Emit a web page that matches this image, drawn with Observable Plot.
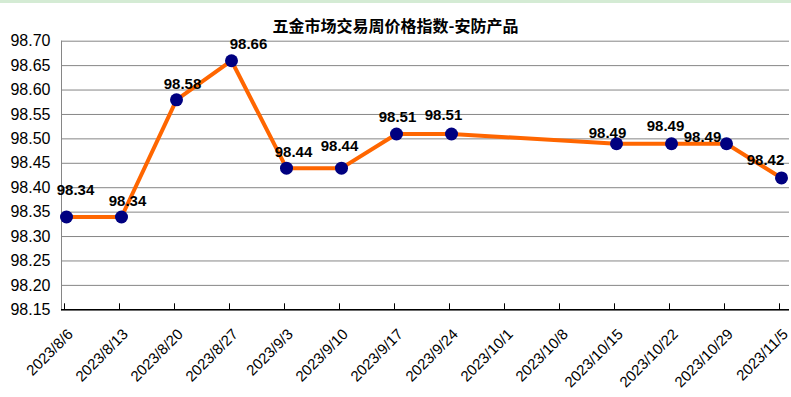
<!DOCTYPE html>
<html>
<head>
<meta charset="utf-8">
<script src="https://cdn.jsdelivr.net/npm/d3@7"></script>
<script src="https://cdn.jsdelivr.net/npm/@observablehq/plot@0.6"></script>
<style>
  html, body { margin: 0; padding: 0; background: #fff; }
  #wrap { width: 791px; height: 397px; overflow: hidden; background: #fff; }
  #title {
    border-top: 3px solid #d4ebd4;
    padding-top: 10px; height: 16px; line-height: 16px;
    text-align: center; font: bold 16px "Noto Sans CJK SC", sans-serif; color: #000;
  }
  svg { font-family: "Liberation Sans", Arial, sans-serif; }
</style>
</head>
<body>
<div id="wrap">
  <div id="title">五金市场交易周价格指数-安防产品</div>
  <div id="chart"></div>
</div>
<script>
const dates = ["2023/8/6","2023/8/13","2023/8/20","2023/8/27","2023/9/3","2023/9/10","2023/9/17","2023/9/24","2023/10/1","2023/10/8","2023/10/15","2023/10/22","2023/10/29","2023/11/5"];
const values = [98.34, 98.34, 98.58, 98.66, 98.44, 98.44, 98.51, 98.51, null, null, 98.49, 98.49, 98.49, 98.42];
const yTicks = [98.15, 98.20, 98.25, 98.30, 98.35, 98.40, 98.45, 98.50, 98.55, 98.60, 98.65, 98.70];
// label nudges (layout only), one per date
const labelDx = [9, 6, 6, 17, 7, -2, 1, -8, 0, 0, -9, -6, -24, -16];
const labelDy = [-27, -16, -16, -17, -16, -22, -17, -19, 0, 0, -11, -18, -7, -18];

const pts = dates.map((d, i) => ({date: d, v: values[i], i})).filter(d => d.v != null);

const labelMarks = pts.map(d => Plot.text([d], {
  x: "date", y: "v", text: p => p.v.toFixed(2),
  dx: labelDx[d.i], dy: labelDy[d.i],
  fontSize: 15, fontWeight: "bold", fill: "#000"
}));

const chart = Plot.plot({
  width: 791, height: 368,
  marginTop: 11.7, marginBottom: 87.7, marginLeft: 61, marginRight: 2,
  style: {fontFamily: "'Liberation Sans', Arial, sans-serif", background: "transparent", overflow: "visible"},
  x: {type: "point", domain: dates, padding: 0, insetLeft: 2, insetRight: 5, label: null},
  y: {domain: [yTicks[0], yTicks[yTicks.length - 1]], label: null},
  marks: [
    Plot.gridY(yTicks, {stroke: "#868686", strokeOpacity: 1}),
    Plot.frame({anchor: "left", stroke: "#868686"}),
    Plot.ruleY([yTicks[0]], {stroke: "#000", strokeWidth: 1.5}),
    Plot.axisY({ticks: yTicks, tickFormat: d => d.toFixed(2), tickSize: 0, tickPadding: 11, fontSize: 16, fill: "#000", label: null}),
    Plot.axisX({ticks: dates, tickSize: -6, tickFormat: () => "", stroke: "#000", dx: -2, label: null}),
    Plot.axisX({ticks: dates, tickSize: 0, tickRotate: -45, tickPadding: 22, dx: 4, fontSize: 15, fill: "#000", label: null}),
    Plot.line(pts, {x: "date", y: "v", stroke: "#ff6600", strokeWidth: 4}),
    Plot.dot(pts, {x: "date", y: "v", r: 6.5, fill: "#000080", stroke: "none"}),
    ...labelMarks
  ]
});
document.getElementById("chart").appendChild(chart);
</script>
</body>
</html>
